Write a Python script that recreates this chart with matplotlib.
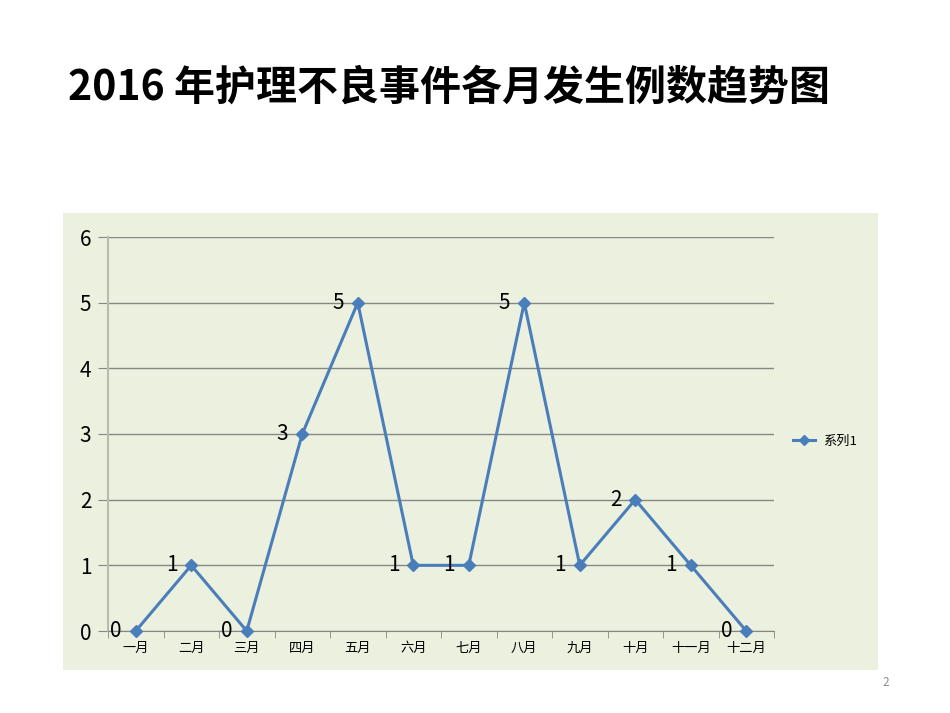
import matplotlib.pyplot as plt
import numpy as np
from matplotlib.patches import Rectangle

plt.rcParams["font.family"] = ["Noto Sans CJK SC", "DejaVu Sans"]

TITLE = "2016 年护理不良事件各月发生例数趋势图"
MONTHS = ["一月", "二月", "三月", "四月", "五月", "六月",
          "七月", "八月", "九月", "十月", "十一月", "十二月"]
COUNTS = [0, 1, 0, 3, 5, 1, 1, 5, 1, 2, 1, 0]
Y_TICKS = [0, 1, 2, 3, 4, 5, 6]
SERIES_NAME = "系列1"
PAGE_NO = "2"

LINE_COLOR = "#4A7EBB"
BG_COLOR = "#EBF1DE"
GRID_COLOR = "#868686"

W, H = 950, 713
fig = plt.figure(figsize=(W / 100, H / 100), dpi=100)

# chart area background, drawn behind the axes
bg = fig.add_axes([63 / W, 1 - 670 / H, (878 - 63) / W, (670 - 213) / H])
bg.set_zorder(0)
bg.add_patch(Rectangle((0, 0), 1, 1, transform=bg.transAxes,
                       facecolor=BG_COLOR, edgecolor="none"))
bg.axis("off")

ax = fig.add_axes([108 / W, 1 - 631 / H, (774 - 108) / W, (631 - 237) / H])
ax.set_zorder(1)
ax.set_facecolor("none")

x = np.arange(len(MONTHS))
ax.plot(x, COUNTS, color=LINE_COLOR, lw=2.2, marker="D", ms=6.5,
        mfc=LINE_COLOR, mec=LINE_COLOR, label=SERIES_NAME, zorder=3, clip_on=False)

for xi, v in zip(x, COUNTS):
    ax.text(xi - 0.25, v, str(v), ha="right", va="center", fontsize=15,
            color="black", zorder=4)

ax.set_xlim(-0.5, len(MONTHS) - 0.5)
ax.set_ylim(0, 6)
ax.set_yticks(Y_TICKS)
ax.set_yticklabels([str(t) for t in Y_TICKS], fontsize=15)
ax.set_xticks(x)
ax.set_xticklabels(MONTHS, fontsize=9.5)
ax.set_xticks(np.arange(-0.5, len(MONTHS)), minor=True)
ax.tick_params(axis="x", which="major", length=0, pad=8)
ax.tick_params(axis="x", which="minor", length=5, color=GRID_COLOR, direction="out")
ax.tick_params(axis="y", length=7, color=GRID_COLOR, pad=5)

ax.grid(axis="y", color=GRID_COLOR, lw=1)
ax.set_axisbelow(True)
for side in ["top", "right"]:
    ax.spines[side].set_visible(False)
ax.spines["left"].set_color("#B8BCB0")
ax.spines["left"].set_linewidth(1.5)
ax.spines["bottom"].set_color(GRID_COLOR)

fig.legend(loc="center left", bbox_to_anchor=(793 / W, 1 - 441 / H), frameon=False,
           fontsize=9.5, handlelength=1.7, handletextpad=0.6, markerscale=0.8,
           borderpad=0, borderaxespad=0)

fig.text(68 / W, 1 - 88 / H, TITLE, fontsize=29.5, fontweight="bold",
         ha="left", va="center")
fig.text(886 / W, 1 - 682 / H, PAGE_NO, fontsize=8.5, color="#8C8C8C",
         ha="center", va="center")

fig.savefig("out.png", dpi=100)
